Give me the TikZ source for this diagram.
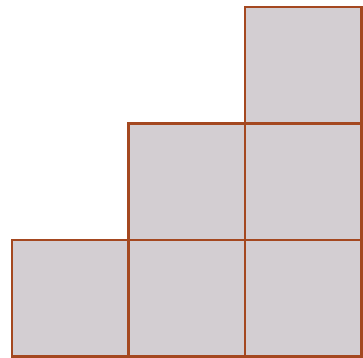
\documentclass[tikz,border=0pt]{standalone}
\usepackage{tikz}
\usetikzlibrary{positioning}
\definecolor{cellfill}{RGB}{211,206,210}
\definecolor{cellline}{RGB}{164,72,32}

\begin{document}
\begin{tikzpicture}[node distance=1cm, on grid,
    cell/.style={draw=cellline, fill=cellfill, line width=0.6pt,
      minimum size=1cm, inner sep=0pt, outer sep=0pt}]
   \useasboundingbox (-0.103,-0.009) rectangle (3.013,3.06);
   % bottom row
   \node[cell] (c11) at (0.5,0.5) {};
   \node[cell] (c21) [right=of c11] {};
   \node[cell] (c31) [right=of c21] {};
   % middle row
   \node[cell] (c22) [above=of c21] {};
   \node[cell] (c32) [above=of c31] {};
   % top row
   \node[cell] (c33) [above=of c32] {};
\end{tikzpicture}
\end{document}
